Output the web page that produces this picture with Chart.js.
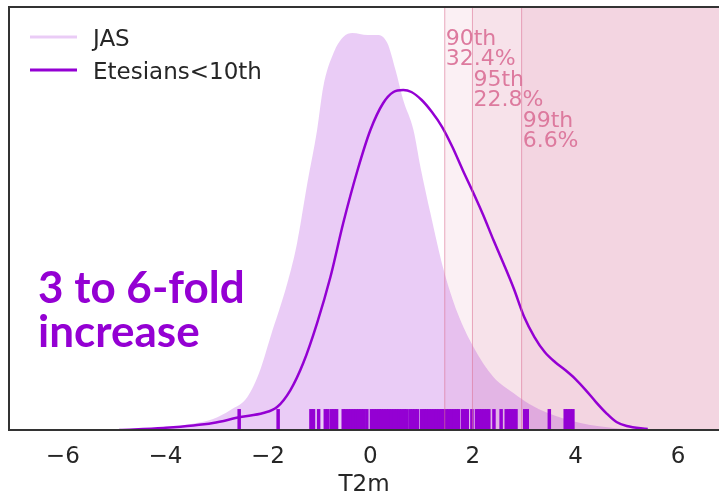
<!DOCTYPE html>
<html lang="en">
<head>
<meta charset="UTF-8">
<title>T2m distribution</title>
<script src="https://cdn.jsdelivr.net/npm/chart.js@4.4.1/dist/chart.umd.min.js"></script>
<style>
  body { margin: 0; background: #fff; }
  #chart { display: block; }
</style>
</head>
<body>
<canvas id="chart" width="719" height="498"></canvas>
<script>
// density curves (x in T2m, y in density)
const jasX = [-4.9, -4.5, -4.04, -3.5, -3.07, -2.73, -2.4, -2.15, -1.95, -1.62, -1.43, -1.23, -1.04, -0.92, -0.72, -0.53, -0.35, -0.06, 0.14, 0.33, 0.49, 0.64, 0.84, 0.98, 1.17, 1.43, 1.7, 2.01, 2.4, 2.79, 3.1, 3.46, 4.1, 4.75, 5.4];
const jasY = [0, 0.001, 0.002, 0.006, 0.011, 0.020, 0.033, 0.060, 0.093, 0.147, 0.187, 0.247, 0.300, 0.343, 0.377, 0.393, 0.397, 0.395, 0.395, 0.387, 0.360, 0.330, 0.300, 0.262, 0.217, 0.160, 0.117, 0.083, 0.053, 0.037, 0.026, 0.017, 0.007, 0.002, 0];

const eteX = [-4.9, -4.04, -3.07, -2.54, -2.09, -1.82, -1.56, -1.31, -1.04, -0.78, -0.53, -0.25, 0.0, 0.25, 0.45, 0.64, 0.8, 1.0, 1.2, 1.4, 1.6, 1.8, 2.0, 2.2, 2.4, 2.6, 2.8, 3.0, 3.2, 3.4, 3.6, 3.8, 4.0, 4.2, 4.4, 4.6, 4.8, 5.0, 5.41];
const eteY = [0, 0.002, 0.007, 0.013, 0.017, 0.023, 0.040, 0.067, 0.107, 0.153, 0.207, 0.260, 0.300, 0.327, 0.338, 0.340, 0.338, 0.330, 0.318, 0.303, 0.283, 0.260, 0.238, 0.215, 0.190, 0.166, 0.141, 0.113, 0.093, 0.078, 0.068, 0.060, 0.051, 0.040, 0.028, 0.017, 0.008, 0.004, 0.001];

// rug of Etesians<10th days
const rugX = [-2.56, -1.80, -1.16, -1.11, -1.01, -0.88, -0.83, -0.76, -0.71, -0.66,
  -0.53, -0.48, -0.43, -0.38, -0.33, -0.28, -0.23, -0.18, -0.13, -0.07,
  0.02, 0.07, 0.12, 0.17, 0.21, 0.26, 0.31, 0.36, 0.41, 0.46, 0.51, 0.56, 0.61, 0.66, 0.70,
  0.77, 0.82, 0.87, 0.92, 1.00, 1.05, 1.09, 1.14, 1.19, 1.24, 1.29, 1.34, 1.39, 1.42,
  1.48, 1.53, 1.58, 1.63, 1.68, 1.72, 1.80, 1.85, 1.89, 1.98,
  2.07, 2.12, 2.17, 2.22, 2.27, 2.31, 2.41, 2.55, 2.65, 2.70, 2.74, 2.79, 2.84,
  3.01, 3.06, 3.49, 3.80, 3.85, 3.90, 3.95];

const pctNames = ['90th', '95th', '99th'];
const pctValues = [1.45, 1.99, 2.95];
const pctShares = ['32.4%', '22.8%', '6.6%'];

const xTicks = [-6, -4, -2, 0, 2, 4, 6];
const xMin = -7.05, xMax = 6.8, yMax = 0.423;

const violet = '#9400d3';
const violetLight = 'rgba(148, 0, 211, 0.2)';
const pink = 'rgba(219, 112, 147, 0.1)';
const pinkLine = 'rgba(219, 112, 147, 0.6)';

const pts = (xs, ys) => xs.map((x, i) => ({ x: x, y: ys[i] }));

const datasets = [];
pctValues.forEach(p => {
    datasets.push({
        data: [{ x: p, y: yMax }, { x: xMax, y: yMax }],
        fill: 'origin', backgroundColor: pink, borderWidth: 0, pointRadius: 0, order: 10
    });
    datasets.push({
        data: [{ x: p, y: 0 }, { x: p, y: yMax }],
        borderColor: pinkLine, borderWidth: 1, pointRadius: 0, order: 1
    });
});
datasets.push({
    label: 'JAS', data: pts(jasX, jasY), fill: 'origin',
    backgroundColor: violetLight, borderColor: violetLight, borderWidth: 0,
    pointRadius: 0, cubicInterpolationMode: 'monotone', order: 8
});
datasets.push({
    label: 'Etesians<10th', data: pts(eteX, eteY), fill: false,
    borderColor: violet, borderWidth: 2.5, pointRadius: 0,
    cubicInterpolationMode: 'monotone', order: 6
});
datasets.push({
    data: rugX.map(x => ({ x: x, y: 0.0105 })), showLine: false,
    pointStyle: 'line', rotation: 90, pointRadius: 10.5, pointBorderWidth: 3.5,
    pointBorderColor: violet, borderColor: violet, order: 4
});

const decorations = {
    id: 'decorations',
    afterDraw(chart) {
        const { ctx, chartArea: a, scales: { x } } = chart;
        ctx.save();

        // percentile labels
        ctx.fillStyle = '#dd7a9e';
        ctx.font = '22px "DejaVu Sans"';
        ctx.textAlign = 'left';
        ctx.textBaseline = 'alphabetic';
        pctValues.forEach((p, i) => {
            const px = x.getPixelForValue(p) + 1;
            const base = 45 + i * 41;
            ctx.fillText(pctNames[i], px, base);
            ctx.fillText(pctShares[i], px, base + 20);
        });

        // legend
        ctx.lineWidth = 3;
        ctx.strokeStyle = violetLight;
        ctx.beginPath(); ctx.moveTo(30, 37); ctx.lineTo(77, 37); ctx.stroke();
        ctx.strokeStyle = violet;
        ctx.beginPath(); ctx.moveTo(30, 70); ctx.lineTo(77, 70); ctx.stroke();
        ctx.fillStyle = '#262626';
        ctx.font = '23px "DejaVu Sans"';
        ctx.fillText('JAS', 93, 46);
        ctx.fillText('Etesians<10th', 93, 79);

        // big note
        ctx.fillStyle = violet;
        ctx.font = 'bold 44px Lato';
        ctx.fillText('3 to 6-fold', 38, 303);
        ctx.fillText('increase', 38, 347);

        // spines
        ctx.strokeStyle = '#333333';
        ctx.lineWidth = 2;
        ctx.beginPath();
        ctx.moveTo(a.right, a.top);
        ctx.lineTo(a.left, a.top);
        ctx.lineTo(a.left, a.bottom);
        ctx.lineTo(a.right, a.bottom);
        ctx.stroke();
        ctx.restore();
    }
};

new Chart(document.getElementById('chart'), {
    type: 'line',
    data: { datasets: datasets },
    options: {
        responsive: false,
        animation: false,
        layout: { autoPadding: false, padding: { left: 9, top: 7, right: 0, bottom: 0 } },
        plugins: { legend: { display: false }, tooltip: { enabled: false } },
        scales: {
            x: {
                type: 'linear', min: xMin, max: xMax,
                afterBuildTicks: s => { s.ticks = xTicks.map(v => ({ value: v })); },
                grid: { display: false, drawTicks: true, tickLength: 12.35 },
                border: { display: false },
                ticks: {
                    padding: 2, color: '#262626',
                    font: { family: 'DejaVu Sans', size: 23, lineHeight: 1.1 },
                    callback: v => (v < 0 ? '\u2212' + Math.abs(v) : '' + v)
                },
                title: {
                    display: true, text: 'T2m', color: '#262626',
                    padding: { top: 1, bottom: 0 },
                    font: { family: 'DejaVu Sans', size: 23, lineHeight: 1.1 }
                }
            },
            y: { display: false, min: 0, max: yMax }
        }
    },
    plugins: [decorations]
});
</script>
</body>
</html>
